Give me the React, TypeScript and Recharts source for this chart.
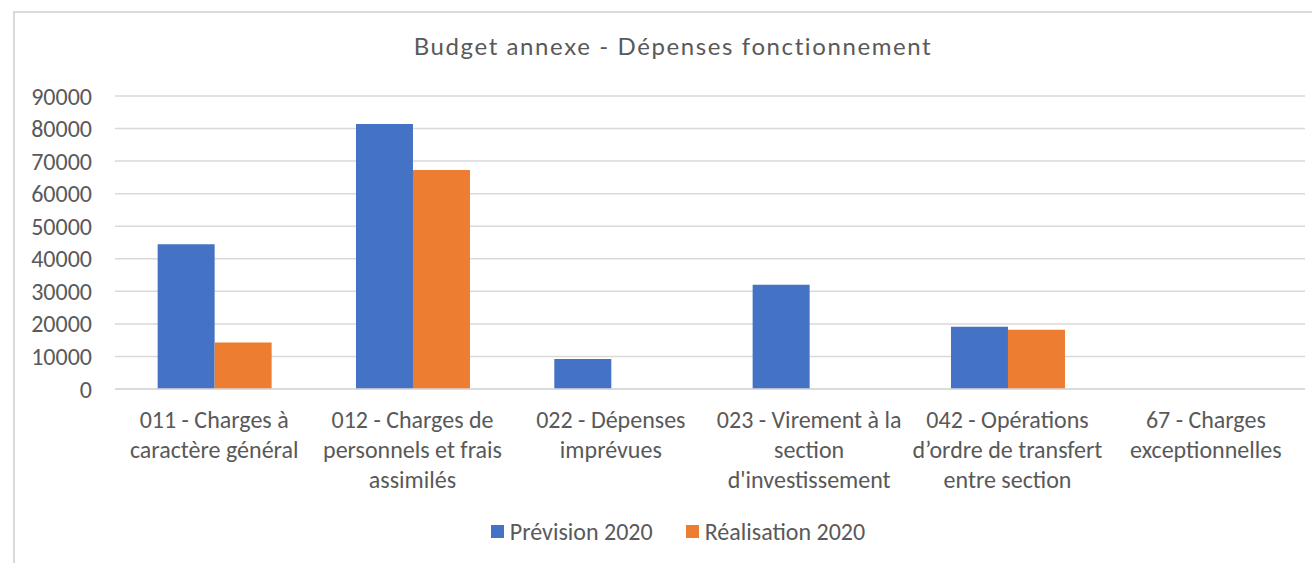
import { BarChart, Bar, XAxis, YAxis, CartesianGrid, Legend } from "recharts";

// categories (line breaks mark where the label wraps)
const categories = [
  "011 - Charges à\ncaractère général",
  "012 - Charges de\npersonnels et frais\nassimilés",
  "022 - Dépenses\nimprévues",
  "023 - Virement à la\nsection\nd'investissement",
  "042 - Opérations\nd’ordre de transfert\nentre section",
  "67 - Charges\nexceptionnelles",
];
const prevision2020 = [44500, 81400, 9200, 32000, 19100, 0];
const realisation2020 = [14300, 67300, 0, 0, 18200, 0];
const yTicks = [0, 10000, 20000, 30000, 40000, 50000, 60000, 70000, 80000, 90000];

const data = categories.map((name, i) => ({
  name,
  prev: prevision2020[i],
  real: realisation2020[i],
}));

const FONT = "Carlito, 'Open Sans', sans-serif";
const GREY = "#595959";

const CategoryTick = (props: any) => {
  const { x, y, payload } = props;
  const lines = String(payload.value).split("\n");
  return (
    <text x={x} y={y} textAnchor="middle" fill={GREY} fontSize={24} fontFamily={FONT}>
      {lines.map((l, i) => (
        <tspan key={i} x={x} dy={i === 0 ? 39 : 30}>{l}</tspan>
      ))}
    </text>
  );
};

const LegendContent = (props: any) => (
  <div style={{ display: "flex", justifyContent: "center", gap: 33, fontFamily: FONT, fontSize: 24, color: GREY }}>
    {props.payload.map((p: any) => (
      <div key={p.value} style={{ display: "flex", alignItems: "center" }}>
        <span style={{ width: 13, height: 13, background: p.color, marginRight: 6, display: "inline-block" }} />
        {p.value}
      </div>
    ))}
  </div>
);

export default function App() {
  return (
    <div style={{ position: "absolute", left: 0, top: 0, width: 1312, height: 563, overflow: "hidden", background: "#fff" }}>
      <div style={{ position: "absolute", left: 13, top: 11, width: 1400, height: 600, border: "2px solid #d9d9d9" }} />
      <div style={{ position: "absolute", left: 0, top: 31, width: 1346, textAlign: "center", fontFamily: "Lato, sans-serif", fontSize: 24, letterSpacing: 1.6, color: GREY }}>
        Budget annexe - Dépenses fonctionnement
      </div>
      <div style={{ position: "absolute", left: 0, top: 0 }}>
        <BarChart
          width={1312}
          height={563}
          data={data}
          margin={{ top: 96, right: 7, left: 0, bottom: 74 }}
          barGap={0}
          barCategoryGap="21.5%"
        >
          <CartesianGrid vertical={false} stroke="#d9d9d9" strokeWidth={1.5} />
          <XAxis
            dataKey="name"
            height={100}
            axisLine={{ stroke: "#d9d9d9", strokeWidth: 1.5 }}
            tickLine={false}
            tickSize={0}
            tickMargin={0}
            interval={0}
            tick={<CategoryTick />}
          />
          <YAxis
            width={115}
            domain={[0, 90000]}
            ticks={yTicks}
            axisLine={false}
            tickLine={false}
            tickSize={0}
            tickMargin={23}
            tick={{ fill: GREY, fontSize: 24, fontFamily: FONT }}
          />
          <Legend verticalAlign="middle" wrapperStyle={{ top: 517, left: 0, width: 1356 }} content={<LegendContent />} />
          <Bar dataKey="prev" name="Prévision 2020" fill="#4472C4" isAnimationActive={false} />
          <Bar dataKey="real" name="Réalisation 2020" fill="#ED7D31" isAnimationActive={false} />
        </BarChart>
      </div>
    </div>
  );
}
